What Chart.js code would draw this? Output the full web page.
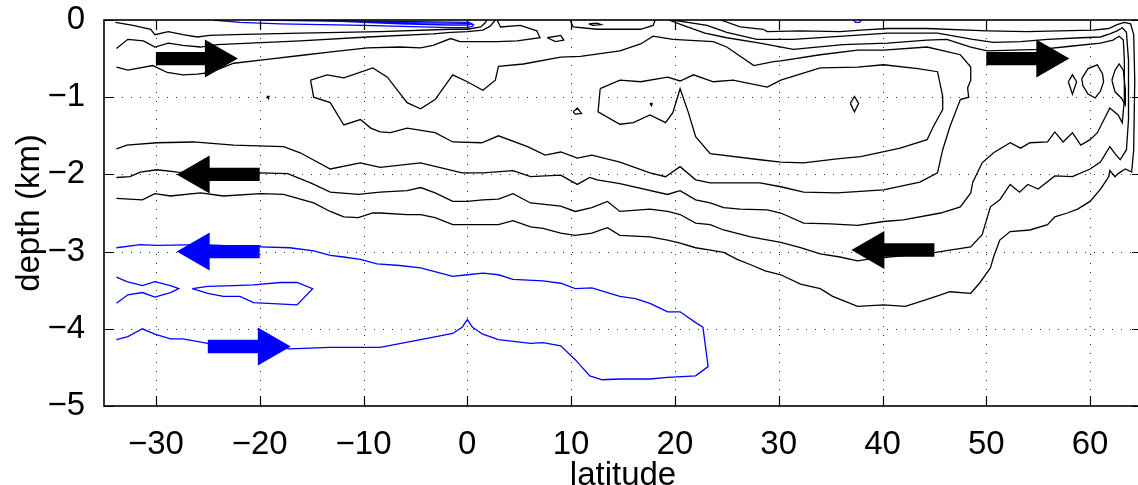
<!DOCTYPE html>
<html>
<head>
<meta charset="utf-8">
<script src="https://cdn.jsdelivr.net/npm/chart.js@4.4.1/dist/chart.umd.min.js"></script>
<style>
  html, body { margin: 0; padding: 0; background: #fff; overflow: hidden; }
  #wrap { position: relative; width: 1144px; height: 485px; }
</style>
</head>
<body>
<div id="wrap"><canvas id="moc" width="1144" height="485"></canvas></div>
<script>
// Axis ticks
const latTicks = [-30, -20, -10, 0, 10, 20, 30, 40, 50, 60];
const depthTicks = [0, -1, -2, -3, -4, -5];

// Overturning streamfunction contours, [latitude, depth km]
// Positive (clockwise, North Atlantic Deep Water) cell
const psiSurfA = [[-33.9,-0.03],[-32.2,-0.07],[-30.5,-0.12],[-30.1,-0.19],[-28.8,-0.15],[-27.4,-0.19],[-26.0,-0.22],[-24.8,-0.2],[-22.5,-0.19],[-16.1,-0.17],[-8.4,-0.15],[-1.6,-0.12],[0,-0.12],[1.3,-0.09],[1.7,-0.04],[1.9,0]];
const psiSurfB = [[-33.8,-0.37],[-32.7,-0.25],[-31.2,-0.27],[-30.1,-0.35],[-28.8,-0.3],[-27.4,-0.33],[-25.7,-0.35],[-24.1,-0.32],[-20.9,-0.3],[-16.1,-0.27],[-9.6,-0.22],[-3.3,-0.18],[-1.6,-0.16],[0,-0.15],[1.5,-0.13],[2.2,-0.08],[2.7,0]];
const psiSurfC = [[-33.8,-0.61],[-32.7,-0.65],[-30.3,-0.59],[-28.9,-0.68],[-27.4,-0.71],[-26.0,-0.70],[-24.8,-0.68],[-22.5,-0.56],[-19.3,-0.51],[-16.1,-0.46],[-12.9,-0.41],[-9.6,-0.36],[-6.5,-0.35],[-4.5,-0.36],[-3.3,-0.33],[-1.6,-0.24],[-0.7,-0.28],[0,-0.28],[2.9,-0.28],[4.8,-0.27],[7.0,-0.23],[6.7,-0.14],[5.1,-0.07],[3.2,-0.09],[2.9,-0.01],[3.0,0]];
const psiEddyEq = [[7.7,-0.23],[9.0,-0.2],[9.3,-0.26],[8.5,-0.28],[7.7,-0.23]];
const psiSurfD = [[9.9,0],[10.2,-0.09],[12.5,-0.12],[16.7,-0.12],[17.9,-0.07],[18.1,0]];
const psiSurfDot = [[11.7,-0.05],[12.5,-0.04],[12.9,-0.06],[12.1,-0.07],[11.7,-0.05]];
const psiCellOuter = [[24.4,0],[26.3,-0.09],[28.5,-0.12],[28.9,-0.15],[32.1,-0.14],[35.9,-0.15],[37.9,-0.13],[40.5,-0.11],[44.3,-0.11],[50.1,-0.14],[53.9,-0.15],[57.1,-0.14],[60.3,-0.13],[61.8,-0.11],[62.6,-0.06],[63.3,-0.03],[63.9,-0.05],[64.2,-0.19],[64.3,-0.78],[64.2,-1.68],[64.0,-1.97],[63.4,-1.93],[62.7,-1.99],[62.4,-2.03],[61.9,-1.95],[61.8,-2.03],[61.0,-2.19],[60.0,-2.35],[58.8,-2.45],[57.8,-2.5],[56.6,-2.55],[55.9,-2.65],[54.2,-2.72],[52.3,-2.74],[51.3,-2.85],[50.7,-3.07],[50.4,-3.21],[49.4,-3.4],[48.5,-3.54],[46.5,-3.52],[45.6,-3.56],[44.3,-3.62],[42.2,-3.71],[40.1,-3.69],[37.6,-3.71],[35.2,-3.58],[34.0,-3.48],[32.1,-3.42],[30.2,-3.3],[28.7,-3.25],[27.3,-3.17],[26.0,-3.1],[24.7,-3.01],[23.4,-2.98],[22.0,-2.95],[20.5,-2.89],[19.3,-2.85],[17.6,-2.81],[14.7,-2.79],[13.5,-2.69],[12.0,-2.76],[10.4,-2.79],[9.0,-2.76],[7.3,-2.7],[6.1,-2.68],[4.4,-2.6],[3.0,-2.65],[-1.4,-2.65],[-3.1,-2.56],[-4.5,-2.52],[-5.8,-2.52],[-8.4,-2.5],[-9.1,-2.5],[-10.5,-2.56],[-11.9,-2.55],[-13.2,-2.48],[-14.8,-2.37],[-17.7,-2.26],[-19.9,-2.25],[-23.5,-2.28],[-25.7,-2.24],[-28.6,-2.28],[-30.1,-2.25],[-31.3,-2.33],[-33.8,-2.31]];
const psiCellMid = [[19.8,0],[23.1,-0.07],[25.0,-0.16],[27.9,-0.25],[31.4,-0.25],[36.2,-0.21],[40.5,-0.17],[45.3,-0.17],[48.7,-0.25],[50.7,-0.29],[53.3,-0.28],[55.9,-0.25],[59.1,-0.23],[61.0,-0.22],[61.9,-0.18],[62.6,-0.14],[63.1,-0.1],[63.5,-0.16],[63.7,-0.52],[63.7,-1.29],[63.5,-1.68],[62.9,-1.81],[62.4,-1.73],[61.9,-1.64],[61.0,-1.84],[60.0,-1.93],[58.3,-2.03],[56.6,-2.02],[55.0,-2.19],[54.0,-2.13],[53.2,-2.23],[52.3,-2.13],[51.3,-2.33],[50.4,-2.42],[49.6,-2.78],[48.5,-2.94],[45.1,-3.01],[38.5,-3.1],[37.6,-3.12],[35.9,-3.07],[34.0,-3.03],[32.1,-2.95],[30.2,-2.88],[27.3,-2.81],[24.7,-2.72],[23.4,-2.65],[22.0,-2.63],[20.5,-2.52],[19.3,-2.48],[17.6,-2.45],[14.7,-2.48],[13.5,-2.35],[12.0,-2.43],[10.4,-2.48],[9.0,-2.41],[6.1,-2.37],[4.4,-2.25],[3.0,-2.32],[1.5,-2.33],[0,-2.35],[-1.4,-2.35],[-3.1,-2.24],[-4.5,-2.17],[-5.8,-2.21],[-8.4,-2.23],[-10.5,-2.26],[-13.2,-2.23],[-15.1,-2.11],[-17.3,-1.99],[-19.9,-1.98],[-23.8,-1.98],[-27.9,-1.97],[-29.9,-1.94],[-31.5,-1.97],[-32.5,-2.03],[-33.8,-2.04]];
const psiCellInner = [[19.4,0],[21.0,-0.08],[22.9,-0.17],[25.0,-0.23],[28.2,-0.3],[31.4,-0.38],[36.2,-0.32],[40.5,-0.3],[44.3,-0.26],[46.2,-0.25],[48.5,-0.35],[50.1,-0.4],[55.2,-0.38],[58.1,-0.34],[61.0,-0.3],[62.2,-0.26],[62.8,-0.21],[63.2,-0.26],[63.3,-0.52],[63.3,-1.03],[63.1,-1.33],[62.7,-1.23],[61.9,-1.14],[60.7,-1.46],[60.0,-1.55],[59.1,-1.62],[58.3,-1.46],[57.4,-1.58],[56.6,-1.45],[55.9,-1.58],[54.2,-1.59],[53.3,-1.66],[52.3,-1.59],[50.7,-1.72],[49.6,-1.85],[48.7,-2.1],[48.5,-2.24],[47.5,-2.42],[45.6,-2.5],[42.0,-2.59],[40.1,-2.61],[37.6,-2.66],[35.0,-2.64],[32.4,-2.63],[30.2,-2.5],[28.9,-2.46],[26.3,-2.45],[24.7,-2.43],[23.4,-2.37],[22.0,-2.33],[20.5,-2.21],[19.3,-2.26],[14.7,-2.12],[12.5,-2.07],[11.8,-2.04],[10.6,-2.13],[9.0,-2.01],[6.1,-2.03],[4.4,-1.95],[1.5,-1.98],[-0.5,-1.98],[-4.5,-1.85],[-8.4,-1.91],[-10.3,-1.85],[-13.2,-1.93],[-16.1,-1.72],[-17.7,-1.64],[-22.5,-1.62],[-26.4,-1.58],[-29.9,-1.59],[-32.8,-1.62],[-33.8,-1.67]];
const psiCore = [[-15.1,-0.78],[-13.5,-0.71],[-11.9,-0.75],[-9.1,-0.62],[-7.7,-0.74],[-5.8,-1.07],[-4.5,-1.15],[-3.1,-1.03],[-1.4,-0.71],[0,-0.8],[1.5,-0.91],[2.7,-0.78],[3.0,-0.6],[5.4,-0.57],[9.0,-0.48],[10.9,-0.47],[14.7,-0.4],[16.7,-0.31],[17.9,-0.21],[19.8,-0.25],[23.7,-0.28],[25.0,-0.35],[27.6,-0.59],[29.5,-0.54],[30.2,-0.53],[34.0,-0.45],[37.6,-0.39],[40.1,-0.39],[44.3,-0.35],[47.5,-0.45],[48.5,-0.61],[48.5,-0.78],[48.2,-0.88],[48.3,-1.0],[47.5,-1.03],[46.5,-1.38],[45.8,-1.68],[45.3,-1.98],[43.6,-2.1],[40.1,-2.2],[35.6,-2.24],[32.4,-2.23],[30.2,-2.16],[28.2,-2.11],[23.4,-2.11],[22.0,-2.07],[20.5,-1.9],[19.1,-2.03],[17.6,-1.98],[14.7,-1.84],[12.0,-1.75],[10.6,-1.79],[9.0,-1.71],[7.5,-1.75],[5.8,-1.64],[3.0,-1.5],[1.4,-1.59],[-1.4,-1.58],[-3.1,-1.46],[-5.8,-1.4],[-7.4,-1.46],[-8.4,-1.45],[-9.3,-1.4],[-10.3,-1.29],[-11.9,-1.36],[-13.2,-1.07],[-14.8,-1.0],[-15.1,-0.78]];
const psiCoreMax = [[12.8,-0.89],[14.7,-0.78],[16.7,-0.8],[19.3,-0.74],[20.5,-0.79],[21.8,-0.71],[23.7,-0.8],[25.6,-0.78],[28.9,-0.87],[30.2,-0.78],[34.0,-0.62],[37.6,-0.61],[40.1,-0.58],[43.4,-0.63],[45.3,-0.67],[45.8,-0.99],[45.8,-1.16],[44.9,-1.38],[44.3,-1.55],[41.7,-1.66],[37.9,-1.77],[35.6,-1.8],[32.4,-1.85],[30.2,-1.84],[28.2,-1.81],[23.4,-1.73],[22.0,-1.51],[21.3,-1.2],[20.5,-0.89],[19.8,-1.2],[19.1,-1.33],[17.6,-1.23],[16.0,-1.33],[14.7,-1.35],[12.6,-1.19],[12.8,-0.89]];
const psiSpot37 = [[36.9,-1.08],[37.3,-0.99],[37.7,-1.08],[37.3,-1.19],[36.9,-1.08]];
const psiSpot10 = [[10.2,-1.19],[10.6,-1.14],[11.0,-1.21],[10.4,-1.22],[10.2,-1.19]];
const psiSpot18 = [[17.6,-1.08],[17.8,-1.08],[17.75,-1.11],[17.6,-1.08]];
const psiSpotS19 = [[-19.3,-0.99],[-19.1,-0.99],[-19.15,-1.02],[-19.3,-0.99]];
const psiNorth58 = [[57.9,-0.8],[58.3,-0.71],[58.7,-0.8],[58.3,-0.96],[57.9,-0.8]];
const psiNorth60 = [[59.2,-0.76],[59.8,-0.63],[60.7,-0.58],[61.2,-0.7],[61.3,-0.8],[61.0,-0.92],[60.5,-1.01],[59.8,-0.96],[59.3,-0.85],[59.2,-0.76]];
const psiNorth62 = [[62.1,-0.78],[62.4,-0.65],[62.8,-0.57],[63.2,-0.65],[63.4,-0.91],[63.4,-1.1],[63.0,-1.01],[62.4,-0.93],[62.1,-0.78]];

// Negative (anticlockwise, Antarctic Bottom Water) cell
const psiNegSurfOuter = [[-24.5,0],[-21.9,-0.03],[-18.0,-0.05],[-10.0,-0.07],[-1.6,-0.1],[0,-0.1],[0.5,-0.08],[0.6,-0.06],[0.2,-0.03],[-5.0,-0.02],[-15.0,-0.01],[-20.0,0]];
const psiNegSurfInner = [[-14.5,-0.005],[-6.5,-0.05],[-1.6,-0.065],[0,-0.065],[0.3,-0.055],[0,-0.045],[-6.5,-0.035],[-14.5,-0.005]];
const psiNegSurf38 = [[37.2,0],[37.4,-0.03],[37.8,-0.03],[38.0,0]];
const psiNegDeep = [[-33.8,-2.95],[-31.5,-2.91],[-29.9,-2.92],[-25.7,-2.91],[-19.9,-2.94],[-17.1,-2.95],[-14.8,-2.99],[-13.2,-3.05],[-11.9,-3.07],[-10.3,-3.1],[-8.7,-3.16],[-6.5,-3.18],[-4.5,-3.21],[-1.4,-3.32],[0,-3.3],[1.5,-3.28],[3.0,-3.3],[4.4,-3.36],[7.3,-3.38],[9.0,-3.41],[10.4,-3.48],[12.0,-3.47],[14.7,-3.58],[16.2,-3.61],[17.6,-3.67],[19.3,-3.78],[20.5,-3.78],[22.0,-3.92],[22.7,-3.98],[23.2,-4.49],[22.0,-4.61],[19.3,-4.63],[17.6,-4.65],[14.7,-4.65],[13.0,-4.66],[11.8,-4.61],[10.4,-4.4],[9.0,-4.22],[7.3,-4.18],[6.1,-4.19],[3.0,-4.14],[1.5,-4.07],[0.5,-3.98],[0,-3.88],[-0.5,-3.98],[-1.4,-4.06],[-4.5,-4.14],[-8.4,-4.24],[-13.2,-4.24],[-17.1,-4.26],[-20.2,-4.2],[-22.5,-4.2],[-25.0,-4.19],[-27.4,-4.13],[-28.6,-4.13],[-30.1,-4.07],[-31.3,-4.0],[-32.7,-4.1],[-33.8,-4.14]];
const psiNegBowtie = [[-33.8,-3.33],[-32.8,-3.39],[-31.3,-3.44],[-30.1,-3.39],[-28.6,-3.44],[-27.8,-3.48],[-28.6,-3.53],[-30.1,-3.59],[-31.3,-3.53],[-32.7,-3.56],[-33.8,-3.67]];
const psiNegLens = [[-26.5,-3.48],[-25.0,-3.45],[-22.5,-3.44],[-20.6,-3.43],[-18.0,-3.4],[-16.4,-3.4],[-14.9,-3.48],[-16.4,-3.69],[-20.6,-3.66],[-21.9,-3.58],[-23.5,-3.58],[-25.0,-3.54],[-26.5,-3.48]];

const nadwContours = [psiSurfA, psiSurfB, psiSurfC, psiEddyEq, psiSurfD, psiSurfDot, psiCellOuter, psiCellMid, psiCellInner, psiCore, psiCoreMax, psiSpot37, psiSpot10, psiSpot18, psiSpotS19, psiNorth58, psiNorth60, psiNorth62];
const aabwContours = [psiNegSurfOuter, psiNegSurfInner, psiNegSurf38, psiNegDeep, psiNegBowtie, psiNegLens];

// Flow direction arrows: tail latitude, tip latitude, depth, water mass
const arrowTail  = [-30, -20, -20, -25, 50, 45];
const arrowTip   = [-22.1, -28, -28, -17, 58, 37];
const arrowDepth = [-0.5, -2.0, -3.0, -4.23, -0.5, -2.98];
const arrowCell  = ['nadw', 'nadw', 'aabw', 'aabw', 'nadw', 'nadw'];

const cellColor = { nadw: '#000000', aabw: '#0000ff' };
const FONT = "'Liberation Sans', Arial, Helvetica, sans-serif";

const toXY = pts => pts.map(p => ({ x: p[0], y: p[1] }));
const lineSet = (pts, color) => ({
  data: toXY(pts), borderColor: color, borderWidth: 1.3, showLine: true,
  pointRadius: 0, pointHoverRadius: 0, tension: 0, fill: false
});
const datasets = [
  ...aabwContours.map(c => lineSet(c, cellColor.aabw)),
  ...nadwContours.map(c => lineSet(c, cellColor.nadw))
];

const fmt = v => (v < 0 ? '\u2212' + Math.abs(v) : String(v));

const framePlugin = {
  id: 'matlabFrame',
  beforeDatasetsDraw(chart) {
    const { ctx, chartArea: a, scales: { x, y } } = chart;
    ctx.save();
    ctx.strokeStyle = 'rgba(0,0,0,0.8)';
    ctx.lineWidth = 1;
    ctx.setLineDash([1, 8]);
    latTicks.forEach(v => {
      const px = Math.round(x.getPixelForValue(v)) + 0.5;
      ctx.beginPath(); ctx.moveTo(px, a.top); ctx.lineTo(px, a.bottom); ctx.stroke();
    });
    depthTicks.forEach(v => {
      if (v === 0 || v === -5) return;
      const py = Math.round(y.getPixelForValue(v)) + 0.5;
      ctx.beginPath(); ctx.moveTo(a.left, py); ctx.lineTo(a.right, py); ctx.stroke();
    });
    ctx.restore();
  },
  afterDatasetsDraw(chart) {
    const { ctx, chartArea: a, scales: { x, y } } = chart;
    ctx.save();
    // arrows
    const headLen = 33, shaftHalf = 6.7, headHalf = 19;
    arrowTail.forEach((t0, i) => {
      const x0 = x.getPixelForValue(t0), x1 = x.getPixelForValue(arrowTip[i]);
      const py = y.getPixelForValue(arrowDepth[i]);
      const dir = Math.sign(x1 - x0);
      const xb = x1 - dir * headLen;
      ctx.fillStyle = cellColor[arrowCell[i]];
      ctx.beginPath();
      ctx.moveTo(x0, py - shaftHalf);
      ctx.lineTo(xb, py - shaftHalf);
      ctx.lineTo(xb, py - headHalf);
      ctx.lineTo(x1, py);
      ctx.lineTo(xb, py + headHalf);
      ctx.lineTo(xb, py + shaftHalf);
      ctx.lineTo(x0, py + shaftHalf);
      ctx.closePath();
      ctx.fill();
    });
    // box and inward ticks
    ctx.strokeStyle = '#000';
    ctx.setLineDash([]);
    ctx.lineWidth = 1.6;
    ctx.strokeRect(a.left, a.top, a.right - a.left, a.bottom - a.top);
    ctx.lineWidth = 1.2;
    const tl = 10;
    latTicks.forEach(v => {
      const px = Math.round(x.getPixelForValue(v)) + 0.5;
      ctx.beginPath();
      ctx.moveTo(px, a.bottom); ctx.lineTo(px, a.bottom - tl);
      ctx.moveTo(px, a.top); ctx.lineTo(px, a.top + tl);
      ctx.stroke();
    });
    depthTicks.forEach(v => {
      const py = Math.round(y.getPixelForValue(v)) + 0.5;
      ctx.beginPath();
      ctx.moveTo(a.left, py); ctx.lineTo(a.left + tl, py);
      ctx.moveTo(a.right, py); ctx.lineTo(a.right - tl, py);
      ctx.stroke();
    });
    ctx.restore();
  }
};

new Chart(document.getElementById('moc'), {
  type: 'scatter',
  data: { datasets },
  options: {
    responsive: false,
    animation: false,
    devicePixelRatio: 1,
    layout: { padding: { top: 20, right: 2, left: 0, bottom: 0 } },
    plugins: { legend: { display: false }, tooltip: { enabled: false } },
    scales: {
      x: {
        type: 'linear', min: -35, max: 65,
        afterBuildTicks: s => { s.ticks = latTicks.map(v => ({ value: v })); },
        afterFit: s => { s.height = 79; s.paddingLeft = 0; s.paddingRight = 0; },
        grid: { display: false }, border: { display: false },
        ticks: { callback: v => fmt(v), color: '#000', padding: 11, maxRotation: 0, autoSkip: false,
                 font: { family: FONT, size: 33 } },
        title: { display: true, text: 'latitude', color: '#000',
                 font: { family: FONT, size: 33 }, padding: { top: 0, bottom: -11 } }
      },
      y: {
        type: 'linear', min: -5, max: 0,
        afterBuildTicks: s => { s.ticks = depthTicks.map(v => ({ value: v })); },
        afterFit: s => { s.width = 104; s.paddingTop = 0; s.paddingBottom = 0; },
        grid: { display: false }, border: { display: false },
        ticks: { callback: v => fmt(v), color: '#000', padding: 11, autoSkip: false,
                 font: { family: FONT, size: 33 } },
        title: { display: true, text: 'depth (km)', color: '#000',
                 font: { family: FONT, size: 33 }, padding: { top: 10, bottom: 0 } }
      }
    }
  },
  plugins: [framePlugin]
});
</script>
</body>
</html>
